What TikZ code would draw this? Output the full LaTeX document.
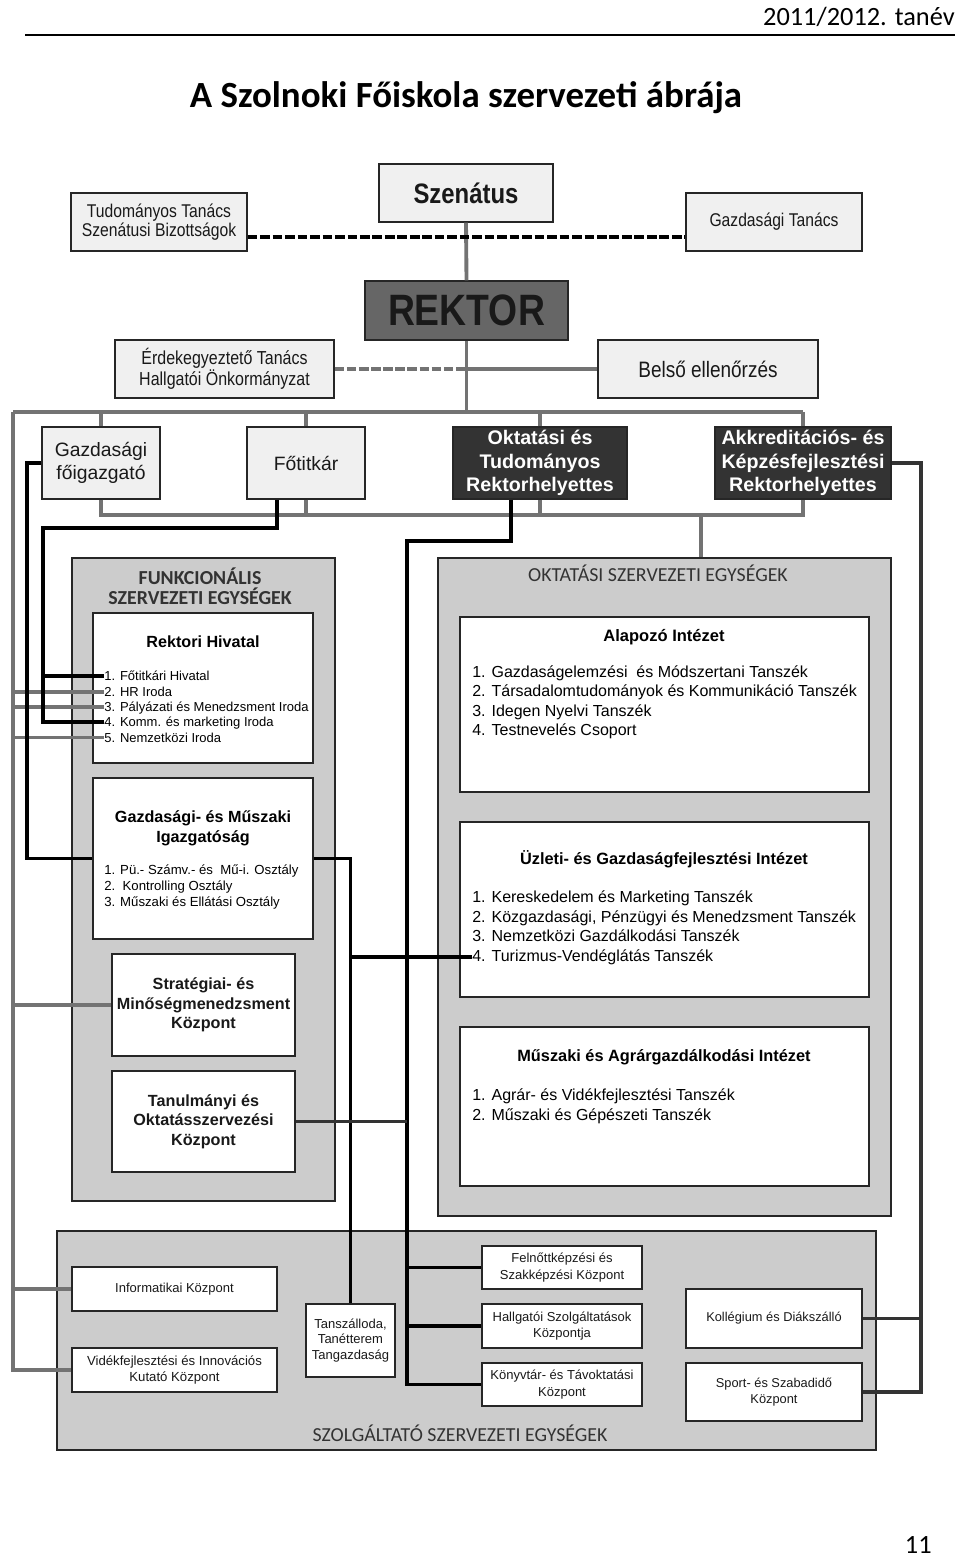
\documentclass[tikz,border=0pt]{standalone}
\usepackage{fontspec}
\setmainfont{Liberation Sans}
\newfontfamily\narrowfont{Liberation Sans}[FakeStretch=0.85]
\newfontfamily\calibrifont{Carlito}
\usepackage{tikz}
\usetikzlibrary{calc}

\newcommand{\fsz}[2]{\fontsize{#1}{#2}\selectfont}

\begin{document}
\begin{tikzpicture}[
    x=0.02cm, y=-0.02cm,
    span/.style n args={4}{minimum width={(#3-#1)*0.02cm}, minimum height={(#4-#2)*0.02cm},
      at={({(#1+#3)/2},{(#2+#4)/2})}},
    box/.style={rectangle, draw=black!85, line width=0.8pt, inner sep=0pt,
      align=center, text=black!90},
    lightbox/.style={box, fill=black!6},
    darkbox/.style={box, fill=black!80, text=white, font=\bfseries\fsz{11.2}{13.4}},
    whitebox/.style={box, fill=white},
    group/.style={box, fill=black!20},
    grouptitle/.style={font=\calibrifont\fsz{11.3}{11.6}, text=black!80, align=center},
    boxtitle/.style={font=\bfseries\fsz{9.2}{11.2}, align=center},
    item/.style={anchor=west, inner sep=0pt, text height=0.72em, text depth=0.2em},
    gline/.style={draw=black!55, line width=2.2pt},
    bline/.style={draw=black, line width=2.2pt},
    bdash/.style={draw=black, line width=2.4pt, dash pattern=on 5.5pt off 1.6pt},
    gdash/.style={draw=black!55, line width=2.2pt, dash pattern=on 5.5pt off 1.4pt}
  ]
  \useasboundingbox (0,0) rectangle (960,1557);

  % fejlec
  \node[anchor=base east, inner sep=0pt, font=\calibrifont\fsz{15}{18}] (tanev) at (955,26) {2011/2012. tanév};
  \coordinate (ruleL) at (25,35);
  \coordinate (ruleR) at (955,35);
  \draw[line width=1pt] (ruleL) -- (ruleR);
  \node[anchor=base, inner sep=0pt, font=\calibrifont\bfseries\fsz{21}{25}] (cim) at (466,108) {A Szolnoki Főiskola szervezeti ábrája};
  \node[anchor=base east, inner sep=0pt, font=\calibrifont\fsz{15}{18}] (oldal) at (932,1553) {11};

  % vezetes
  \node[lightbox, span={379}{164}{553}{222}, font=\narrowfont\bfseries\fsz{16}{18}] (szenatus) {Szenátus};
  \node[lightbox, span={71}{193}{247}{251}, font=\narrowfont\fsz{10.5}{11}] (tudtan) {Tudományos Tanács\\Szenátusi Bizottságok};
  \node[lightbox, span={686}{193}{862}{251}, font=\narrowfont\fsz{10.5}{11}] (gtanacs) {Gazdasági Tanács};
  \node[box, fill=black!60, span={365}{281}{568}{340}, font=\narrowfont\bfseries\fsz{25}{28}] (rektor) {REKTOR};
  \node[lightbox, span={115}{340}{334}{398}, font=\narrowfont\fsz{10.7}{11}] (erdek) {Érdekegyeztető Tanács\\Hallgatói Önkormányzat};
  \node[lightbox, span={598}{340}{818}{398}, font=\narrowfont\fsz{12.7}{14}] (belso) {Belső ellenőrzés};

  \node[lightbox, span={42}{427}{160}{499}, font=\fsz{11}{13.5}] (gfoig) {Gazdasági\\főigazgató};
  \node[lightbox, span={247}{427}{365}{499}, font=\fsz{11}{13.5}] (fotitkar) {Főtitkár};
  \node[darkbox, span={453}{427}{627}{499}] (oktrh) {Oktatási és\\Tudományos\\Rektorhelyettes};
  \node[darkbox, span={715}{427}{891}{499}] (akkred) {Akkreditációs- és\\Képzésfejlesztési\\Rektorhelyettes};

  % csoportok
  \node[group, span={72}{558}{335}{1201}] (fgroup) {};
  \node[group, span={438}{558}{891}{1216}] (ogroup) {};
  \node[group, span={57}{1231}{876}{1450}] (sgroup) {};
  \node[grouptitle, font=\calibrifont\bfseries\fsz{11.3}{11.6}] (ftitle) at (200,586) {FUNKCIONÁLIS\\SZERVEZETI EGYSÉGEK};
  \node[grouptitle] (otitle) at (658,573) {OKTATÁSI SZERVEZETI EGYSÉGEK};
  \node[grouptitle] (stitle) at (460,1433) {SZOLGÁLTATÓ SZERVEZETI EGYSÉGEK};

  % funkcionalis egysegek
  \node[whitebox, span={93}{613}{313}{763}] (rhiv) {};
  \node[boxtitle] (rhivt) at (203,642) {Rektori Hivatal};
  \foreach \t [count=\i] in {1. Főtitkári Hivatal, 2. HR Iroda, 3. Pályázati és Menedzsment Iroda,
      4. Komm. és marketing Iroda, 5. Nemzetközi Iroda}
    \node[item, font=\fsz{7.4}{9}] (rh\i) at (104,{661+15.3*\i}) {\t};

  \node[whitebox, span={93}{778}{313}{939}] (gmi) {};
  \node[boxtitle] (gmit) at (203,828) {Gazdasági- és Műszaki\\Igazgatóság};
  \foreach \t [count=\i] in {1. Pü.- Számv.- és\ \ Mű-i. Osztály, 2.\ \ Kontrolling Osztály,
      3. Műszaki és Ellátási Osztály}
    \node[item, font=\fsz{7.5}{9}] (gm\i) at (104,{854+16*\i}) {\t};

  \node[whitebox, span={112}{954}{295}{1056}, boxtitle] (strat) {Stratégiai- és\\Minőségmenedzsment\\Központ};
  \node[whitebox, span={112}{1071}{295}{1172}, boxtitle] (tanulm) {Tanulmányi és\\Oktatásszervezési\\Központ};

  % oktatasi egysegek
  \node[whitebox, span={460}{617}{869}{792}] (alap) {};
  \node[boxtitle, font=\bfseries\fsz{9.4}{11}] (alapt) at (664,637) {Alapozó Intézet};
  \foreach \t [count=\i] in {1. Gazdaságelemzési\ \ és Módszertani Tanszék,
      2. Társadalomtudományok és Kommunikáció Tanszék, 3. Idegen Nyelvi Tanszék, 4. Testnevelés Csoport}
    \node[item, font=\fsz{9.1}{11}] (al\i) at (472,{654+19.2*\i}) {\t};

  \node[whitebox, span={460}{822}{869}{997}] (uzleti) {};
  \node[boxtitle, font=\bfseries\fsz{9.3}{11}] (uzletit) at (664,859) {Üzleti- és Gazdaságfejlesztési Intézet};
  \foreach \t [count=\i] in {1. Kereskedelem és Marketing Tanszék,
      {2. Közgazdasági, Pénzügyi és Menedzsment Tanszék}, 3. Nemzetközi Gazdálkodási Tanszék,
      4. Turizmus-Vendéglátás Tanszék}
    \node[item, font=\fsz{9.1}{11}] (uz\i) at (472,{878.6+19.6*\i}) {\t};

  \node[whitebox, span={460}{1027}{869}{1186}] (muszaki) {};
  \node[boxtitle, font=\bfseries\fsz{9.3}{11}] (muszakit) at (664,1057) {Műszaki és Agrárgazdálkodási Intézet};
  \foreach \t [count=\i] in {1. Agrár- és Vidékfejlesztési Tanszék, 2. Műszaki és Gépészeti Tanszék}
    \node[item, font=\fsz{9.1}{11}] (mu\i) at (472,{1076+20*\i}) {\t};

  % szolgaltato egysegek
  \node[whitebox, span={72}{1267}{277}{1311}, font=\fsz{7.4}{9}] (inform) {Informatikai Központ};
  \node[whitebox, span={72}{1348}{277}{1392}, font=\fsz{7.5}{9.2}] (videk) {Vidékfejlesztési és Innovációs\\Kutató Központ};
  \node[whitebox, span={306}{1304}{395}{1377}, font=\fsz{7.4}{8.8}] (tanszallo) {Tanszálloda,\\Tanétterem\\Tangazdaság};
  \node[whitebox, span={482}{1246}{642}{1289}, font=\fsz{7.4}{9.5}] (felnott) {Felnőttképzési és\\Szakképzési Központ};
  \node[whitebox, span={482}{1304}{642}{1348}, font=\fsz{7.4}{9.5}] (hallg) {Hallgatói Szolgáltatások\\Központja};
  \node[whitebox, span={482}{1363}{642}{1406}, font=\fsz{7.4}{9.5}] (konyvtar) {Könyvtár- és Távoktatási\\Központ};
  \node[whitebox, span={686}{1289}{862}{1348}, font=\fsz{7.3}{9.5}] (kolleg) {Kollégium és Diákszálló};
  \node[whitebox, span={686}{1363}{862}{1421}, font=\fsz{7.3}{9.5}] (sport) {Sport- és Szabadidő\\Központ};

  % szurke kapcsolatok
  \draw[gline] (szenatus.south) -- (rektor.north);
  \draw[bdash] ($(tudtan.east)+(0,15)$) -- ($(gtanacs.west)+(0,15)$);
  \coordinate (rk) at (rektor.south |- erdek.east);
  \draw[gdash] (erdek.east) -- (rk);
  \draw[gline] (rk) -- (belso.west);
  \coordinate (busL) at (13,412);
  \coordinate (busR) at (803,412);
  \draw[gline] (rektor.south) -- (rektor.south |- busL);
  \draw[gline] (busL) -- (busR);
  \draw[gline] (gfoig.north) -- (gfoig.north |- busL);
  \draw[gline] (fotitkar.north) -- (fotitkar.north |- busL);
  \draw[gline] (oktrh.north) -- (oktrh.north |- busL);
  \draw[gline] (akkred.north) -- (akkred.north |- busL);

  \coordinate (bus2L) at (gfoig.south |- 0,515);
  \coordinate (bus2R) at (akkred.south |- 0,515);
  \draw[gline] (gfoig.south) -- (bus2L) -- (bus2R) -- (akkred.south);
  \draw[gline] (fotitkar.south) -- (fotitkar.south |- bus2L);
  \draw[gline] (oktrh.south) -- (oktrh.south |- bus2L);
  \coordinate (okdrop) at (701,515);
  \draw[gline] (okdrop) -- (okdrop |- ogroup.north);

  \draw[gline] (busL) -- (busL |- videk.west) -- (videk.west);
  \draw[gline] (busL |- inform.west) -- (inform.west);
  \draw[gline] (busL |- strat.west) -- (strat.west);
  \draw[gline] (busL |- rh2.west) -- (rh2.west);
  \draw[gline] (busL |- rh3.west) -- (rh3.west);
  \draw[gline] (busL |- rh5.west) -- (rh5.west);

  % fekete kapcsolatok
  \draw[bline] (gfoig.west) -- ++(-14,0) |- (gmi.west);
  \coordinate (ftbend) at (43,528);
  \draw[bline] ($(fotitkar.south)+(-29,0)$) |- (ftbend) |- (rh4.west);
  \draw[bline] (ftbend |- rh1.west) -- (rh1.west);

  \draw[bline] (gmi.east) -| (tanszallo.north);
  \draw[bline] (tanszallo.north |- uz4.west) -- (uz4.west);

  \coordinate (okbend) at (407,541);
  \draw[bline] ($(oktrh.south)+(-29,0)$) |- (okbend) |- (konyvtar.west);
  \draw[bline] (okbend |- felnott.west) -- (felnott.west);
  \draw[bline] (okbend |- hallg.west) -- (hallg.west);
  \draw[bline, draw=black!80, line width=1.8pt] (tanulm.east) -- (okbend |- tanulm.east);

  \coordinate (akbend) at ($(akkred.east)+(29,0)$);
  \draw[bline, draw=black!80] (akkred.east) -- (akbend) |- (sport.east);
  \draw[bline, draw=black!80] (akbend |- kolleg.east) -- (kolleg.east);
\end{tikzpicture}
\end{document}
